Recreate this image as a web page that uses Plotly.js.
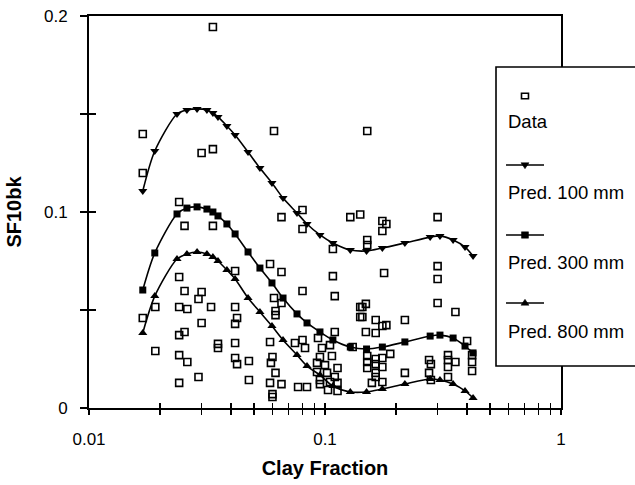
<!DOCTYPE html>
<html>
<head>
<meta charset="utf-8">
<script src="https://cdn.plot.ly/plotly-3.0.1.min.js"></script>
<style>
  html, body { margin: 0; padding: 0; background: #fff; }
  #chart { width: 635px; height: 485px; }
</style>
</head>
<body>
<div id="chart"></div>
<script>
// ---- Data ----
const dataClay = [
  0.0335, 0.0169, 0.0169, 0.0300, 0.0335, 0.0608, 0.151, 0.0241, 0.0254, 0.0335,
  0.0654, 0.0803, 0.0803, 0.128, 0.141, 0.175, 0.182, 0.175, 0.151, 0.151,
  0.300, 0.0241, 0.0254, 0.0300, 0.0291, 0.0191, 0.0241, 0.0261, 0.0329, 0.0416,
  0.0169, 0.0424, 0.0416, 0.0300, 0.0241, 0.0254, 0.0352, 0.0352, 0.0416, 0.0191,
  0.0241, 0.0261, 0.0416, 0.0424, 0.0476, 0.0291, 0.0241, 0.0476, 0.0416, 0.0585,
  0.0654, 0.0803, 0.0608, 0.0654, 0.0617, 0.0617, 0.0585, 0.0746, 0.0803, 0.0823,
  0.0599, 0.0590, 0.0617, 0.0585, 0.0654, 0.0769, 0.0839, 0.0599, 0.0599, 0.108,
  0.108, 0.110, 0.141, 0.141, 0.110, 0.0934, 0.0971, 0.105, 0.107, 0.0952,
  0.0925, 0.100, 0.113, 0.0925, 0.102, 0.110, 0.0952, 0.105, 0.113, 0.0952,
  0.103, 0.113, 0.178, 0.300, 0.300, 0.300, 0.357, 0.144, 0.149, 0.144,
  0.164, 0.175, 0.182, 0.149, 0.164, 0.218, 0.400, 0.131, 0.151, 0.151,
  0.151, 0.164, 0.164, 0.175, 0.175, 0.189, 0.164, 0.164, 0.175, 0.158,
  0.218, 0.276, 0.281, 0.276, 0.281, 0.332, 0.332, 0.332, 0.357, 0.332,
  0.420, 0.420, 0.420
];
const dataSF = [
  0.1944, 0.1398, 0.1199, 0.1301, 0.1321, 0.1413, 0.1413, 0.1051, 0.0929, 0.0929,
  0.0974, 0.1010, 0.0913, 0.0974, 0.0987, 0.0954, 0.0939, 0.0903, 0.0857, 0.0832,
  0.0974, 0.0668, 0.0597, 0.0592, 0.0556, 0.0515, 0.0515, 0.0505, 0.0515, 0.0515,
  0.0459, 0.0459, 0.0429, 0.0434, 0.0372, 0.0388, 0.0327, 0.0306, 0.0332, 0.0291,
  0.0270, 0.0235, 0.0255, 0.0224, 0.0240, 0.0158, 0.0128, 0.0143, 0.0699, 0.0735,
  0.0694, 0.0597, 0.0561, 0.0536, 0.0495, 0.0474, 0.0337, 0.0332, 0.0347, 0.0306,
  0.0260, 0.0230, 0.0179, 0.0128, 0.0122, 0.0107, 0.0107, 0.0071, 0.0056, 0.0811,
  0.0673, 0.0571, 0.0515, 0.0464, 0.0388, 0.0357, 0.0306, 0.0321, 0.0265, 0.0260,
  0.0230, 0.0219, 0.0204, 0.0184, 0.0179, 0.0158, 0.0143, 0.0133, 0.0128, 0.0122,
  0.0092, 0.0087, 0.0689, 0.0724, 0.0658, 0.0536, 0.0490, 0.0515, 0.0531, 0.0464,
  0.0449, 0.0418, 0.0423, 0.0388, 0.0383, 0.0449, 0.0342, 0.0311, 0.0265, 0.0235,
  0.0204, 0.0250, 0.0224, 0.0255, 0.0209, 0.0276, 0.0179, 0.0158, 0.0133, 0.0128,
  0.0179, 0.0245, 0.0224, 0.0179, 0.0143, 0.0270, 0.0245, 0.0209, 0.0235, 0.0158,
  0.0270, 0.0235, 0.0189
];

const predClay = [
  0.0169, 0.0190, 0.0236, 0.0260, 0.0287, 0.0316, 0.0335, 0.0352, 0.0384, 0.0416,
  0.0472, 0.0530, 0.0596, 0.0664, 0.0761, 0.0839, 0.0952, 0.108, 0.128, 0.150,
  0.175, 0.218, 0.279, 0.307, 0.349, 0.392, 0.424
];
const pred100 = [
  0.1107, 0.1311, 0.1500, 0.1520, 0.1526, 0.1520, 0.1505, 0.1485, 0.1439, 0.1393,
  0.1306, 0.1224, 0.1148, 0.1071, 0.0995, 0.0939, 0.0883, 0.0842, 0.0806, 0.0801,
  0.0816, 0.0842, 0.0872, 0.0878, 0.0857, 0.0821, 0.0776
];
const pred300 = [
  0.0602, 0.0791, 0.0990, 0.1020, 0.1026, 0.1015, 0.1000, 0.0980, 0.0939, 0.0888,
  0.0796, 0.0714, 0.0638, 0.0561, 0.0480, 0.0434, 0.0388, 0.0347, 0.0311, 0.0301,
  0.0311, 0.0337, 0.0367, 0.0372, 0.0357, 0.0316, 0.0281
];
const pred800 = [
  0.0383, 0.0571, 0.0760, 0.0786, 0.0796, 0.0786, 0.0770, 0.0750, 0.0704, 0.0658,
  0.0561, 0.0490, 0.0418, 0.0347, 0.0270, 0.0214, 0.0168, 0.0112, 0.0082, 0.0082,
  0.0097, 0.0122, 0.0148, 0.0143, 0.0122, 0.0087, 0.0051
];

const seriesNames = ['Data', 'Pred. 100 mm', 'Pred. 300 mm', 'Pred. 800 mm'];
const xTickVals = [0.01,0.02,0.03,0.04,0.05,0.06,0.07,0.08,0.09,0.1,0.2,0.3,0.4,0.5,0.6,0.7,0.8,0.9,1];
const xTickText = ['0.01','','','','','','','','','0.1','','','','','','','','','1'];
const yTickVals = [0, 0.05, 0.1, 0.15, 0.2];
const yTickText = ['0', '', '0.1', '', '0.2'];

// ---- Chart ----
const FONT = 'Liberation Sans, Arial, Helvetica, sans-serif';
const lineStyle = {color: '#000', width: 1.6};

const traces = [
  {x: dataClay, y: dataSF, name: seriesNames[0], type: 'scatter', mode: 'markers',
   marker: {symbol: 'square-open', size: 7, color: '#000', line: {width: 1.6, color: '#000'}}},
  {x: predClay, y: pred100, name: seriesNames[1], type: 'scatter', mode: 'lines+markers',
   line: Object.assign({shape: 'spline', smoothing: 0.8}, lineStyle),
   marker: {symbol: 'triangle-down', size: 8, color: '#000'}},
  {x: predClay, y: pred300, name: seriesNames[2], type: 'scatter', mode: 'lines+markers',
   line: Object.assign({shape: 'spline', smoothing: 0.8}, lineStyle),
   marker: {symbol: 'square', size: 7, color: '#000'}},
  {x: predClay, y: pred800, name: seriesNames[3], type: 'scatter', mode: 'lines+markers',
   line: Object.assign({shape: 'spline', smoothing: 0.8}, lineStyle),
   marker: {symbol: 'triangle-up', size: 8, color: '#000'}},
  // empty trace that only carries the inner half of the crossing tick marks
  {x: [], y: [], xaxis: 'x2', yaxis: 'y2', type: 'scatter', mode: 'markers',
   showlegend: false, hoverinfo: 'skip'}
];

// Custom legend (symbol above label, as in the reference), in paper coordinates
const legX0 = 0.8623, legX1 = 1.25, legY0 = 0.1071, legY1 = 0.8699;
const symX0 = 0.8835, symX1 = 0.9640, symXc = 0.9237;
const dx = 0.0074, dy = 0.0082;
const rowSym = [0.7959, 0.6199, 0.4413, 0.2679];
const rowTxt = [0.7296, 0.5510, 0.3724, 0.1964];

const shapes = [
  {type: 'rect', xref: 'paper', yref: 'paper', x0: legX0, x1: legX1, y0: legY0, y1: legY1,
   fillcolor: '#fff', line: {color: '#000', width: 1.6}, layer: 'above'},
  {type: 'rect', xref: 'paper', yref: 'paper', x0: symXc - dx, x1: symXc + dx,
   y0: rowSym[0] - dy * 0.85, y1: rowSym[0] + dy * 0.85,
   fillcolor: '#fff', line: {color: '#000', width: 1.6}, layer: 'above'}
];
for (let i = 1; i < 4; i++) {
  shapes.push({type: 'line', xref: 'paper', yref: 'paper', x0: symX0, x1: symX1,
    y0: rowSym[i], y1: rowSym[i], line: {color: '#000', width: 1.4}, layer: 'above'});
}
const hx = 0.0085, hy = 0.0095;
shapes.push({type: 'path', xref: 'paper', yref: 'paper', layer: 'above',
  path: `M ${symXc - hx} ${rowSym[1] + hy * 0.6} L ${symXc + hx} ${rowSym[1] + hy * 0.6} L ${symXc} ${rowSym[1] - hy} Z`,
  fillcolor: '#000', line: {color: '#000', width: 0.5}});
shapes.push({type: 'rect', xref: 'paper', yref: 'paper', layer: 'above',
  x0: symXc - dx, x1: symXc + dx, y0: rowSym[2] - dy, y1: rowSym[2] + dy,
  fillcolor: '#000', line: {color: '#000', width: 0.5}});
shapes.push({type: 'path', xref: 'paper', yref: 'paper', layer: 'above',
  path: `M ${symXc - hx} ${rowSym[3] - hy * 0.6} L ${symXc + hx} ${rowSym[3] - hy * 0.6} L ${symXc} ${rowSym[3] + hy} Z`,
  fillcolor: '#000', line: {color: '#000', width: 0.5}});

const annotations = seriesNames.map((n, i) => ({
  xref: 'paper', yref: 'paper', x: 0.8835, y: rowTxt[i], xanchor: 'left', yanchor: 'middle',
  text: n, showarrow: false, font: {family: FONT, size: 18.5, color: '#000'}
}));

const layout = {
  width: 635, height: 485,
  margin: {l: 89, r: 74, t: 16, b: 77, pad: 0},
  paper_bgcolor: '#fff', plot_bgcolor: '#fff',
  showlegend: false,
  font: {family: FONT, color: '#000'},
  xaxis: {
    type: 'log', range: [-2, 0], autorange: false,
    tickmode: 'array', tickvals: xTickVals, ticktext: xTickText,
    ticks: 'outside', ticklen: 5, tickwidth: 1.2, tickcolor: '#000',
    showline: true, linewidth: 2, linecolor: '#000', mirror: true,
    showgrid: false, zeroline: false,
    tickfont: {family: FONT, size: 17, color: '#000'},
    ticklabelstandoff: 10,
    title: {text: '<b>Clay Fraction</b>', font: {family: FONT, size: 20, color: '#000'}, standoff: 13}
  },
  yaxis: {
    range: [0, 0.2], autorange: false,
    tickmode: 'array', tickvals: yTickVals, ticktext: yTickText,
    ticks: 'outside', ticklen: 7, tickwidth: 1.2, tickcolor: '#000',
    showline: true, linewidth: 2, linecolor: '#000', mirror: true,
    showgrid: false, zeroline: false,
    tickfont: {family: FONT, size: 17, color: '#000'},
    ticklabelstandoff: 9,
    title: {text: '<b>SF10bk</b>', font: {family: FONT, size: 20, color: '#000'}, standoff: 17}
  },
  xaxis2: {
    type: 'log', range: [-2, 0], autorange: false, overlaying: 'x', anchor: 'y2', side: 'bottom',
    tickmode: 'array', tickvals: xTickVals, showticklabels: false,
    ticks: 'inside', ticklen: 5, tickwidth: 1.2, tickcolor: '#000',
    showline: false, showgrid: false, zeroline: false
  },
  yaxis2: {
    range: [0, 0.2], autorange: false, overlaying: 'y', anchor: 'x2', side: 'left',
    tickmode: 'array', tickvals: yTickVals, showticklabels: false,
    ticks: 'inside', ticklen: 7, tickwidth: 1.2, tickcolor: '#000',
    showline: false, showgrid: false, zeroline: false
  },
  shapes: shapes,
  annotations: annotations
};

Plotly.newPlot('chart', traces, layout, {displayModeBar: false, staticPlot: true});
</script>
</body>
</html>
